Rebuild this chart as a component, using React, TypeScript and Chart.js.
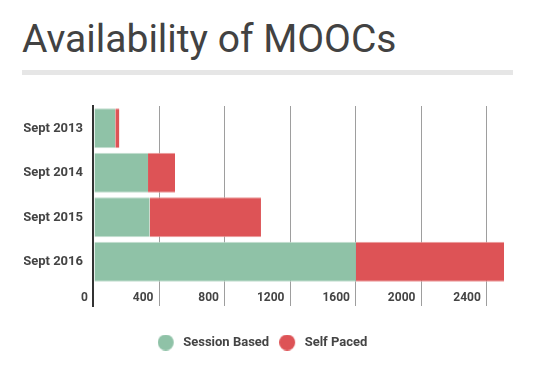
import React, { useEffect, useRef } from "react";
import { Chart, registerables } from "chart.js";

Chart.register(...registerables);

const categories = ["Sept 2013", "Sept 2014", "Sept 2015", "Sept 2016"];
const sessionBased = [130, 330, 340, 1600];
const selfPaced = [25, 165, 680, 905];
const xTicks = [0, 400, 800, 1200, 1600, 2000, 2400];
const seriesNames = ["Session Based", "Self Paced"];
const seriesColors = ["#8fc2a7", "#dd5356"];
const seriesEdge = ["#c3ded0", "#eb9a9b"];

function makeDot(color: string) {
  const c = document.createElement("canvas");
  c.width = 19;
  c.height = 16;
  const g = c.getContext("2d")!;
  g.fillStyle = color;
  g.beginPath();
  g.arc(8, 8, 8, 0, Math.PI * 2);
  g.fill();
  return c;
}

const axisLinePlugin = {
  id: "axisLine",
  afterLayout(chart: any) {
    const lg = chart.legend;
    if (!lg || !lg.lineWidths) return;
    const cur = (lg.left + 10 + lg.right - lg.lineWidths[0]) / 2;
    const d = 157.7 - cur;
    lg.left += d;
    lg.right += d;
  },
  afterDatasetsDraw(chart: any) {
    const { ctx, chartArea } = chart;
    const xs = chart.scales.x;
    const px = Math.round(xs.getPixelForValue(0));
    ctx.save();
    ctx.fillStyle = "#333333";
    ctx.fillRect(px - 2, chartArea.top - 1, 2, chartArea.bottom - chartArea.top + 24);
    ctx.restore();
  },
};

export default function App() {
  const ref = useRef<HTMLCanvasElement>(null);
  useEffect(() => {
    document.body.style.margin = "0";
    const dots = seriesColors.map(makeDot);
    const chart = new Chart(ref.current!, {
      type: "bar",
      data: {
        labels: categories,
        datasets: [
          {
            label: seriesNames[0],
            data: sessionBased,
            backgroundColor: seriesColors[0],
            borderColor: seriesEdge[0],
            borderWidth: { top: 1, bottom: 1, left: 0, right: 0 },
            borderSkipped: false,
          },
          {
            label: seriesNames[1],
            data: selfPaced,
            backgroundColor: seriesColors[1],
            borderColor: seriesEdge[1],
            borderWidth: { top: 1, bottom: 1, left: 0, right: 0 },
            borderSkipped: false,
          },
        ],
      },
      plugins: [axisLinePlugin],
      options: {
        indexAxis: "y",
        responsive: false,
        animation: false,
        devicePixelRatio: 1,
        layout: { padding: { top: 106, left: 24, right: 20, bottom: 18 } },
        datasets: { bar: { barPercentage: 0.904, categoryPercentage: 1 } },
        font: { family: "Roboto" },
        scales: {
          x: {
            stacked: true,
            min: 0,
            max: 2584,
            afterBuildTicks: (s: any) => {
              s.ticks = xTicks.map((v) => ({ value: v }));
            },
            afterFit: (s: any) => {
              s.height = 42;
            },
            border: { display: false },
            grid: {
              color: (c: any) => (c.tick && c.tick.value === 0 ? "rgba(0,0,0,0)" : "#9e9e9e"),
              lineWidth: 1,
              drawTicks: true,
              tickLength: 22,
              tickColor: (c: any) => (c.tick && c.tick.value === 0 ? "rgba(0,0,0,0)" : "#9e9e9e"),
            },
            ticks: {
              align: "end",
              labelOffset: -6,
              padding: -15,
              maxRotation: 0,
              autoSkip: false,
              color: "#444444",
              font: { family: "Roboto", size: 12, weight: "bold" },
              callback: (v: any) => String(v),
            },
          },
          y: {
            stacked: true,
            afterFit: (s: any) => {
              s.width = 70;
            },
            border: { display: false },
            grid: { display: false, drawTicks: false },
            ticks: {
              padding: 11,
              color: "#444444",
              font: { family: "Roboto", size: 13, weight: "bold" },
            },
          },
        },
        plugins: {
          tooltip: { enabled: false },
          title: { display: false },
          legend: {
            position: "bottom",
            labels: {
              usePointStyle: true,
              pointStyleWidth: 19,
              boxHeight: 13,
              padding: 10,
              color: "#444444",
              font: { family: "Roboto", size: 13, weight: "bold" },
              generateLabels: (ch: any) =>
                Chart.defaults.plugins.legend.labels
                  .generateLabels(ch)
                  .map((l: any, i: number) => ({ ...l, pointStyle: dots[i] })),
            },
          },
        },
      } as any,
    });
    return () => chart.destroy();
  }, []);

  return (
    <div style={{ position: "fixed", left: 0, top: 0, width: 537, height: 377, background: "#ffffff" }}>
      <div
        style={{
          position: "absolute",
          left: 22,
          top: 20,
          fontFamily: "Roboto",
          fontSize: 39,
          lineHeight: "39px",
          fontWeight: 400,
          color: "#424242",
          whiteSpace: "nowrap",
        }}
      >
        Availability of MOOCs
      </div>
      <div style={{ position: "absolute", left: 22, top: 70, width: 491, height: 5, background: "#e6e6e6" }} />
      <canvas ref={ref} width={537} height={377} style={{ position: "absolute", left: 0, top: 0 }} />
    </div>
  );
}
